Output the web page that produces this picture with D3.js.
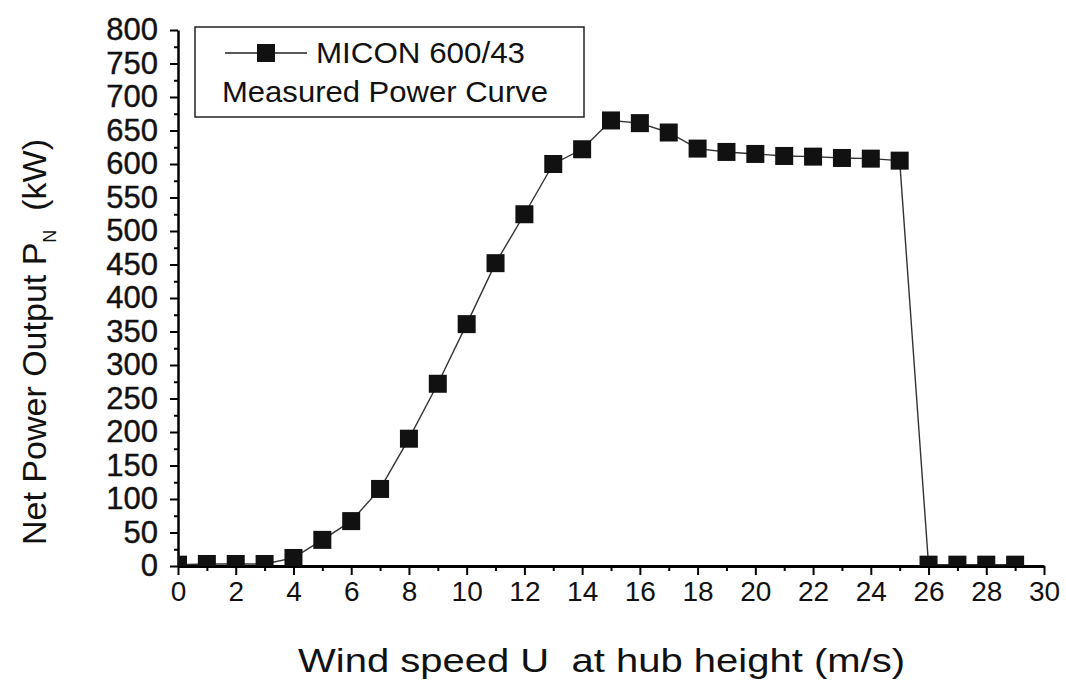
<!DOCTYPE html>
<html>
  <head>
    <meta charset="utf-8">
    <title>MICON 600/43 power curve</title>
    <style>
      body { margin: 0; background: #fff; }
      text { font-family: "Liberation Sans", Arial, sans-serif; fill: #111; white-space: pre; }
    </style>
  </head>
  <body>
    <script src="https://d3js.org/d3.v7.min.js"></script>
    <svg id="chart" width="1066" height="680"></svg>
    <script>
      // wind speed (m/s) and measured net power (kW)
      const windSpeed = [0, 1, 2, 3, 4, 5, 6, 7, 8, 9, 10, 11, 12, 13, 14, 15,
                         16, 17, 18, 19, 20, 21, 22, 23, 24, 25, 26, 27, 28, 29]
      const power = [2, 3, 3, 3, 12, 39, 67, 115, 190, 272, 361, 452, 525, 600, 622, 665,
                     661, 647, 623, 618, 615, 612, 611, 609, 608, 605, 2, 2, 2, 2]
      const xTicks = d3.range(0, 31, 2)
      const yTicks = d3.range(0, 801, 50)
      const legendTitle = "MICON 600/43"
      const legendSub = "Measured Power Curve"

      const width = 1066, height = 680
      const margin = { top: 30, right: 22, bottom: 114, left: 178 }

      const svg = d3.select('#chart')

      const x = d3.scaleLinear([0, 30], [margin.left, width - margin.right])
      const y = d3.scaleLinear([0, 800], [height - margin.bottom, margin.top])

      svg.append('defs').append('clipPath').attr('id', 'plot')
        .append('rect')
          .attr('x', x(0)).attr('y', y(800))
          .attr('width', x(30) - x(0)).attr('height', y(0) - y(800))

      // minor ticks
      svg.append('g')
        .attr('transform', `translate(0,${y(0)})`)
        .call(d3.axisBottom(x).tickValues(d3.range(1, 30, 2)).tickSize(5).tickFormat(''))
        .call(g => g.select('.domain').remove())
        .selectAll('line').attr('stroke-width', 2)
      svg.append('g')
        .attr('transform', `translate(${x(0)},0)`)
        .call(d3.axisLeft(y).tickValues(d3.range(25, 800, 50)).tickSize(4).tickFormat(''))
        .call(g => g.select('.domain').remove())
        .selectAll('line').attr('stroke-width', 2)

      const xAxis = svg.append('g')
        .attr('transform', `translate(0,${y(0)})`)
        .call(d3.axisBottom(x).tickValues(xTicks).tickSize(9).tickSizeOuter(0).tickPadding(6))
      xAxis.select('.domain').attr('stroke-width', 3)
      xAxis.selectAll('line').attr('stroke-width', 2)
      xAxis.selectAll('text').style('font-size', '28px').attr('fill', '#111')

      const yAxis = svg.append('g')
        .attr('transform', `translate(${x(0)},0)`)
        .call(d3.axisLeft(y).tickValues(yTicks).tickSize(8).tickSizeOuter(0).tickPadding(12))
      yAxis.select('.domain').attr('stroke-width', 2.5)
      yAxis.selectAll('line').attr('stroke-width', 2)
      yAxis.selectAll('text').style('font-size', '31px').attr('fill', '#111')
        .attr('stroke', '#111').attr('stroke-width', 0.4)

      const pts = windSpeed.map((w, i) => ({ w, p: power[i] }))
      const line = d3.line().x(d => x(d.w)).y(d => y(d.p))

      const plot = svg.append('g').attr('clip-path', 'url(#plot)')
      plot.append('path')
        .datum(pts)
        .attr('d', line)
        .attr('fill', 'none')
        .attr('stroke', '#333')
        .attr('stroke-width', 1.4)
      const ms = 18
      plot.selectAll('rect.pt')
        .data(pts)
        .join('rect')
          .attr('class', 'pt')
          .attr('x', d => x(d.w) - ms / 2)
          .attr('y', d => y(d.p) - ms / 2)
          .attr('width', ms).attr('height', ms)
          .attr('fill', '#111')

      // legend
      const lg = svg.append('g')
      lg.append('rect')
        .attr('x', 195).attr('y', 27).attr('width', 389).attr('height', 90)
        .attr('fill', '#fff').attr('stroke', '#222').attr('stroke-width', 1.5)
      lg.append('line')
        .attr('x1', 225).attr('x2', 307).attr('y1', 53).attr('y2', 53)
        .attr('stroke', '#222').attr('stroke-width', 1.4)
      lg.append('rect')
        .attr('x', 257).attr('y', 44).attr('width', 18).attr('height', 18).attr('fill', '#111')
      lg.append('text').attr('x', 316).attr('y', 63).style('font-size', '30px')
        .attr('textLength', 209).attr('lengthAdjust', 'spacingAndGlyphs').text(legendTitle)
      lg.append('text').attr('x', 222).attr('y', 102).style('font-size', '30px')
        .attr('textLength', 326).attr('lengthAdjust', 'spacingAndGlyphs').text(legendSub)

      // axis titles
      svg.append('text')
        .attr('x', 298).attr('y', 672)
        .style('font-size', '33px')
        .attr('textLength', 607).attr('lengthAdjust', 'spacingAndGlyphs')
        .text('Wind speed U  at hub height (m/s)')

      const yt = svg.append('text')
        .attr('transform', 'translate(46,342) rotate(-90)')
        .attr('text-anchor', 'middle')
        .style('font-size', '34px')
      yt.append('tspan').text('Net Power Output P')
      yt.append('tspan').attr('dy', 10).style('font-size', '18px').text('N')
      yt.append('tspan').attr('dy', -10).text('  (kW)')
    </script>
  </body>
</html>
